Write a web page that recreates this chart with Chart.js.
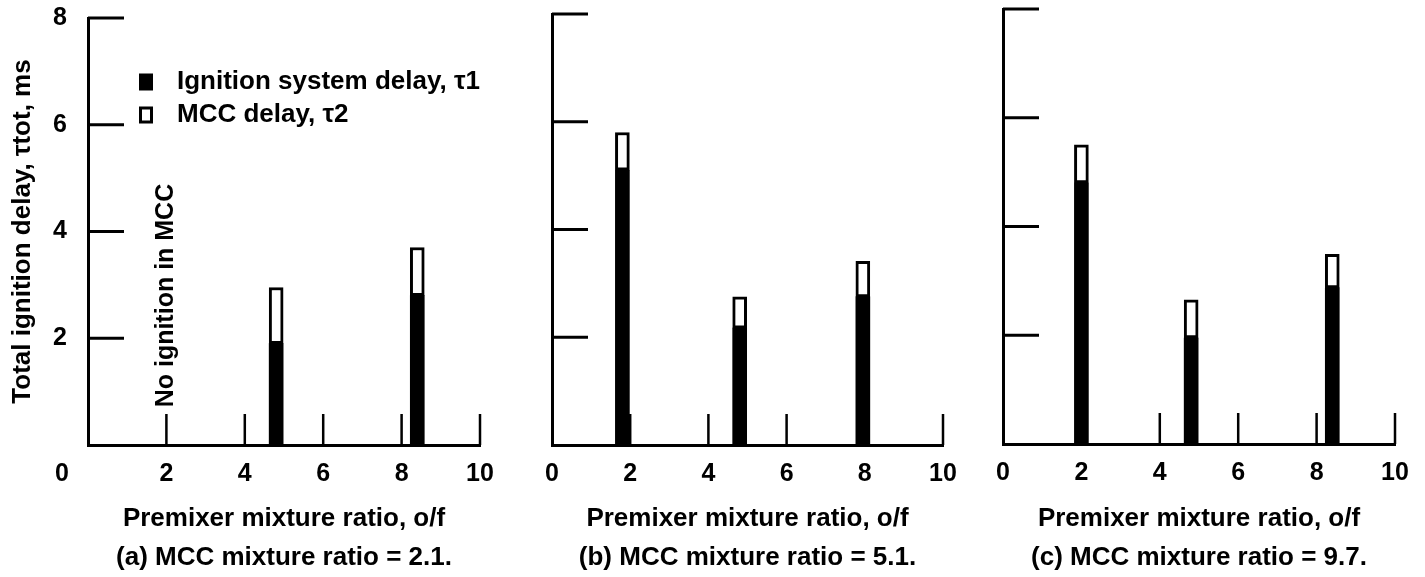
<!DOCTYPE html>
<html>
<head>
<meta charset="utf-8">
<script src="https://cdn.jsdelivr.net/npm/chart.js@4.4.1/dist/chart.umd.min.js"></script>
<style>
  html, body { margin: 0; padding: 0; background: #fff; }
  #wrap { position: relative; width: 1425px; height: 577px; }
  .pn { position: absolute; top: 0; height: 577px; }
</style>
</head>
<body>
<div id="wrap">
  <div class="pn" style="left:0;width:500px"><canvas id="ca"></canvas></div>
  <div class="pn" style="left:500px;width:470px"><canvas id="cb"></canvas></div>
  <div class="pn" style="left:970px;width:455px"><canvas id="cc"></canvas></div>
</div>
<script>
// premixer o/f of each bar and the two delays (ms), per panel
const ofA = [4.8, 8.4]
const t1A = [1.9, 2.8]
const t2A = [1.05, 0.9]

const ofB = [1.8, 4.8, 7.95]
const t1B = [5.1, 2.17, 2.75]
const t2B = [0.7, 0.58, 0.66]

const ofC = [2.0, 4.8, 8.4]
const t1C = [4.8, 1.95, 2.87]
const t2C = [0.7, 0.7, 0.62]

const xTicks = [0, 2, 4, 6, 8, 10]
const yTicks = [0, 2, 4, 6, 8]
const seriesNames = ['Ignition system delay, \u03c41', 'MCC delay, \u03c42']
const xTitle = 'Premixer mixture ratio, o/f'
const yTitle = 'Total ignition delay, \u03c4tot, ms'
const captions = ['(a) MCC mixture ratio = 2.1.', '(b) MCC mixture ratio = 5.1.', '(c) MCC mixture ratio = 9.7.']
const note = 'No ignition in MCC'

const FAM = '"Liberation Sans", Arial, Helvetica, sans-serif'
Chart.defaults.font.family = FAM
Chart.defaults.color = '#000'

// tick marks point inward, drawn behind the bars
const innerTicks = {
  id: 'innerTicks',
  beforeDatasetsDraw(chart) {
    const { ctx, chartArea: a, scales: { x, y } } = chart
    ctx.save()
    ctx.strokeStyle = '#000'
    ctx.lineWidth = 2.5
    ctx.beginPath()
    x.ticks.forEach(t => {
      if (t.value === 0) return
      const px = x.getPixelForValue(t.value)
      ctx.moveTo(px, a.bottom)
      ctx.lineTo(px, a.bottom - 31)
    })
    ctx.stroke()
    ctx.lineWidth = 3
    ctx.beginPath()
    y.ticks.forEach(t => {
      if (t.value === 0) return
      const py = y.getPixelForValue(t.value)
      ctx.moveTo(a.left, py)
      ctx.lineTo(a.left + 36, py)
    })
    ctx.stroke()
    ctx.restore()
  }
}

// legend, note and the shifted "0", only in panel (a)
const notes = {
  id: 'notes',
  afterDraw(chart, args, opts) {
    if (!opts.show) return
    const { ctx, chartArea: a, scales: { x, y } } = chart
    const ds = chart.data.datasets
    ctx.save()
    ctx.font = 'bold 26px ' + FAM
    ctx.textBaseline = 'middle'
    ctx.textAlign = 'left'
    ds.forEach((d, i) => {
      const cy = a.top + 64 + i * 33
      const bx = a.left + 51
      ctx.fillStyle = d.backgroundColor
      ctx.fillRect(bx, cy - 8.5, 14, 17)
      if (d.borderWidth) {
        ctx.strokeStyle = d.borderColor
        ctx.lineWidth = 3
        ctx.strokeRect(bx + 1.5, cy - 7, 11, 14)
      }
      ctx.fillStyle = '#000'
      ctx.fillText(d.label, a.left + 89, cy)
    })
    // x label "0" sits under the y labels in the original
    ctx.font = 'bold 25px ' + FAM
    ctx.textAlign = 'center'
    ctx.fillText(String(xTicks[0]), a.left - 26, a.bottom + 29)

    ctx.translate(x.getPixelForValue(2), y.getPixelForValue(2.8))
    ctx.rotate(-Math.PI / 2)
    ctx.fillText(note, 0, 0)
    ctx.restore()
  }
}

function panel(id, of, t1, t2, cap, box, first) {
  return new Chart(document.getElementById(id), {
    type: 'bar',
    data: {
      datasets: [
        { label: seriesNames[0], data: of.map((v, i) => ({ x: v, y: t1[i] })),
          backgroundColor: '#000', borderWidth: 0, barThickness: 14 },
        { label: seriesNames[1], data: of.map((v, i) => ({ x: v, y: t2[i] })),
          backgroundColor: '#fff', borderColor: '#000', borderWidth: 3, borderSkipped: false, barThickness: 14 }
      ]
    },
    options: {
      responsive: true,
      maintainAspectRatio: false,
      animation: false,
      layout: { autoPadding: false, padding: { left: 0, top: box.top, right: box.right, bottom: 0 } },
      plugins: { legend: { display: false }, tooltip: { enabled: false }, notes: { show: first } },
      scales: {
        x: {
          type: 'linear', min: 0, max: 10, offset: false, stacked: true,
          afterBuildTicks: s => { s.ticks = xTicks.map(v => ({ value: v })) },
          afterFit: s => { s.height = 577 - box.bottom },
          grid: { display: false, drawTicks: true, tickLength: 14 },
          border: { display: true, color: '#000', width: 3 },
          ticks: { color: '#000', font: { size: 25, weight: 'bold' }, padding: 0, maxRotation: 0, autoSkip: false,
            callback: v => (first && v === 0) ? '' : v },
          title: { display: true, text: [xTitle, cap], color: '#000',
            font: { size: 26, weight: 'bold', lineHeight: '39px' }, padding: { top: 0, bottom: 0 } }
        },
        y: {
          min: 0, max: 8, stacked: true,
          afterBuildTicks: s => { s.ticks = yTicks.map(v => ({ value: v })) },
          afterFit: s => { s.width = box.yw },
          grid: { display: false, drawTicks: true, tickLength: 21 },
          border: { display: true, color: '#000', width: 3 },
          ticks: { display: first, color: '#000', font: { size: 25, weight: 'bold' }, padding: 0,
            callback: v => v === 0 ? '' : v },
          title: { display: first, text: yTitle, color: '#000',
            font: { size: 26, weight: 'bold' }, padding: { top: 7, bottom: 0 } }
        }
      }
    },
    plugins: [innerTicks, notes]
  })
}

panel('ca', ofA, t1A, t2A, captions[0], { top: 18, bottom: 445, right: 20, yw: 88 }, true)
panel('cb', ofB, t1B, t2B, captions[1], { top: 14, bottom: 445, right: 27, yw: 52 }, false)
panel('cc', ofC, t1C, t2C, captions[2], { top: 9, bottom: 444, right: 30, yw: 33 }, false)
</script>
</body>
</html>
